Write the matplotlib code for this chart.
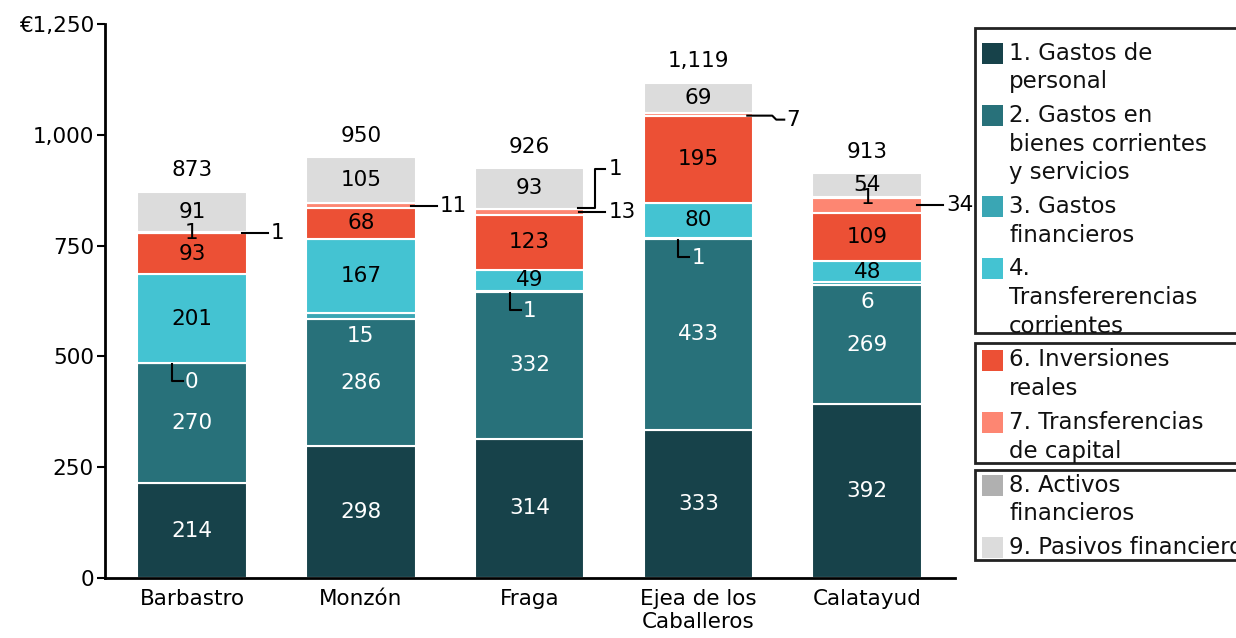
import numpy as np
import matplotlib.pyplot as plt
from matplotlib.patches import Rectangle

plt.rcParams['font.family'] = ['DejaVu Sans']

cities = ['Barbastro', 'Monzón', 'Fraga', 'Ejea de los\nCaballeros', 'Calatayud']
totals = [873, 950, 926, 1119, 913]

personal = [214, 298, 314, 333, 392]
bienes = [270, 286, 332, 433, 269]
financieros = [0, 15, 1, 1, 6]
transf_corr = [201, 167, 49, 80, 48]
inversiones = [93, 68, 123, 195, 109]
transf_cap = [1, 11, 13, 7, 34]
activos = [1, 0, 1, 0, 1]
pasivos = [91, 105, 93, 69, 54]

series = [personal, bienes, financieros, transf_corr, inversiones, transf_cap, activos, pasivos]
colors = ['#17424a', '#28717a', '#3aa6b4', '#44c3d2', '#ec5035', '#fd8672', '#b0b0b0', '#dcdcdc']
text_colors = ['white', 'white', 'black', 'black', 'black', 'black', 'black', 'black']

# how each small value gets labelled: c=centre, L=leader into lower bar,
# below=just under the segment, R=right callout, up/step=bent callouts
styles = [['c'] * 5 for _ in series]
styles[2] = ['L', 'below', 'L', 'L', 'below']
styles[5] = ['c', 'R', 'R', 'step', 'R']
styles[6] = ['R', None, 'up', None, 'c']

legend_items = [
    ['1. Gastos de', 'personal'],
    ['2. Gastos en', 'bienes corrientes', 'y servicios'],
    ['3. Gastos', 'financieros'],
    ['4.', 'Transfererencias', 'corrientes'],
    ['6. Inversiones', 'reales'],
    ['7. Transferencias', 'de capital'],
    ['8. Activos', 'financieros'],
    ['9. Pasivos financieros'],
]
legend_groups = [[0, 1, 2, 3], [4, 5], [6, 7]]

W, H = 1236, 638
fs = 15.5
lfs = 16.5
fig = plt.figure(figsize=(W / 100, H / 100), dpi=100)
ax = fig.add_axes([105 / W, 60 / H, 850 / W, 554 / H])

x = np.arange(len(cities))
bw = 0.65
px = 1 / 169.0          # one pixel in x data units
py = 1250 / 554.0       # one pixel in y data units

bottom = np.zeros(len(cities))
for k, vals in enumerate(series):
    vals = np.array(vals, dtype=float)
    ax.bar(x, vals, bw, bottom=bottom, color=colors[k], edgecolor='white', linewidth=1.5)
    for i, v in enumerate(vals):
        st = styles[k][i]
        if st is None:
            continue
        lo = bottom[i]
        mid = lo + v / 2
        edge = x[i] + bw / 2
        lab = f'{int(v)}'
        if st == 'c':
            ax.text(x[i], mid, lab, ha='center', va='center', fontsize=fs, color=text_colors[k])
        elif st == 'below':
            ax.text(x[i], lo - 17 * py, lab, ha='center', va='center', fontsize=fs, color='white')
        elif st == 'L':
            xl = x[i] - 20 * px
            ax.plot([xl, xl, xl + 11 * px], [lo - 1 * py, lo - 18 * py, lo - 18 * py], color='black', lw=1.5)
            ax.text(xl + 13 * px, lo - 19 * py, lab, ha='left', va='center', fontsize=fs, color='white')
        elif st == 'R':
            ax.plot([edge - 5 * px, edge + 21 * px], [mid, mid], color='black', lw=1.5, clip_on=False)
            ax.text(edge + 24 * px, mid, lab, ha='left', va='center', fontsize=fs, color='black')
        elif st == 'up':
            yt = mid + 40 * py
            ax.plot([edge - 6 * px, edge + 11 * px, edge + 11 * px, edge + 21 * px],
                    [mid + 1 * py, mid + 1 * py, yt, yt], color='black', lw=1.5, clip_on=False)
            ax.text(edge + 24 * px, yt, lab, ha='left', va='center', fontsize=fs, color='black')
        elif st == 'step':
            yb = mid - 5 * py
            ax.plot([edge - 6 * px, edge + 19 * px, edge + 23 * px, edge + 31 * px],
                    [mid - 1 * py, mid - 1 * py, yb, yb], color='black', lw=1.5, clip_on=False)
            ax.text(edge + 33 * px, yb, lab, ha='left', va='center', fontsize=fs, color='black')
    bottom += vals

for i, t in enumerate(totals):
    ax.text(x[i], t + 21 * py, f'{t:,}', ha='center', va='center', fontsize=fs, color='black')

ax.set_xlim(-0.515, 4.52)
ax.set_ylim(0, 1250)
yt_vals = [0, 250, 500, 750, 1000, 1250]
ax.set_yticks(yt_vals)
ax.set_yticklabels([f'{v:,}' for v in yt_vals[:-1]] + ['€1,250'])
ax.set_xticks(x)
ax.set_xticklabels(cities)
ax.tick_params(axis='y', length=6, width=1.5, labelsize=fs, pad=2)
ax.tick_params(axis='x', length=0, labelsize=fs, pad=8)
for s in ['top', 'right']:
    ax.spines[s].set_visible(False)
for s in ['left', 'bottom']:
    ax.spines[s].set_linewidth(2)


def fpx(xp, yp):
    return xp / W, 1 - yp / H


# legend boxes drawn by hand, they run off the right edge of the figure
box_rows = [(28, 333, 53), (343, 463, 360), (470, 560, 485)]
line_h = 28.7
for g, (top, bot, first) in zip(legend_groups, box_rows):
    x0, y0 = fpx(975, bot)
    rect = Rectangle((x0, y0), (1245 - 975) / W, (bot - top) / H, transform=fig.transFigure,
                     facecolor='white', edgecolor='#222222', linewidth=2)
    fig.add_artist(rect)
    yline = first
    for k in g:
        sx, sy = fpx(982, yline + 10.5)
        fig.add_artist(Rectangle((sx, sy), 21 / W, 21 / H, transform=fig.transFigure,
                                 facecolor=colors[k], edgecolor='none'))
        for ln in legend_items[k]:
            tx, ty = fpx(1009, yline)
            t = fig.text(tx, ty, ln, ha='left', va='center', fontsize=lfs, color='#111111')
            t.set_clip_path(rect)
            yline += line_h
        yline += 5

fig.savefig('out.png', dpi=100)
